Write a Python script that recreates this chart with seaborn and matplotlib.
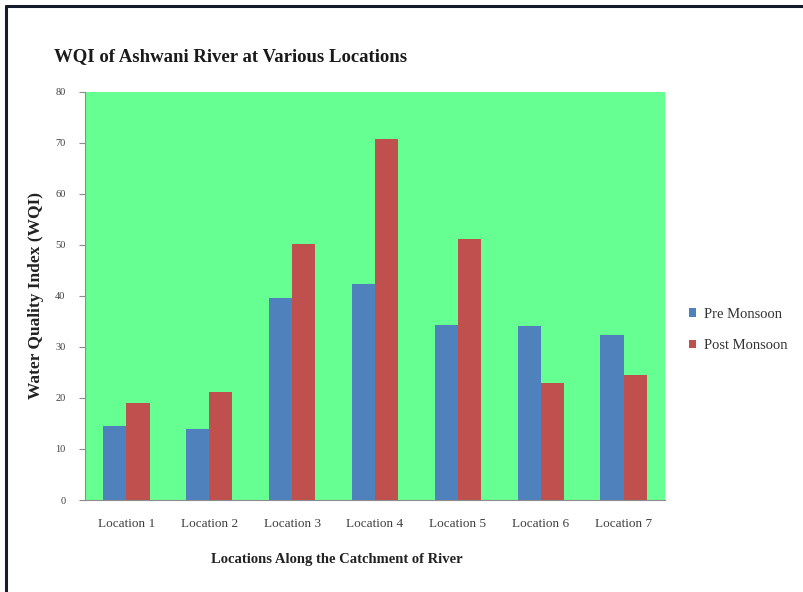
import matplotlib
matplotlib.use("Agg")
import matplotlib.pyplot as plt
from matplotlib.lines import Line2D
from matplotlib.patches import Patch
import seaborn as sns
import pandas as pd
import numpy as np

locations = ["Location 1", "Location 2", "Location 3", "Location 4",
             "Location 5", "Location 6", "Location 7"]
pre_monsoon = [14.5, 14.0, 39.5, 42.3, 34.3, 34.0, 32.3]
post_monsoon = [19.1, 21.2, 50.2, 70.7, 51.1, 23.0, 24.5]
seasons = ["Pre Monsoon", "Post Monsoon"]
y_ticks = [0, 10, 20, 30, 40, 50, 60, 70, 80]

df = pd.DataFrame({
    "Location": locations * 2,
    "WQI": pre_monsoon + post_monsoon,
    "Season": [seasons[0]] * len(locations) + [seasons[1]] * len(locations),
})

sns.set_theme(style="white")
plt.rcParams["font.family"] = ["Liberation Serif", "DejaVu Serif"]

blue = "#4F81BD"
red = "#C0504D"
green = "#66FF91"
axis_grey = "#8C8C8C"

fig = plt.figure(figsize=(8.04, 5.92), dpi=100)
ax = fig.add_axes([85 / 804, 1 - 500 / 592, 580 / 804, (500 - 91.7) / 592])
ax.set_facecolor(green)

sns.barplot(data=df, x="Location", y="WQI", hue="Season", order=locations,
            hue_order=seasons, palette=[blue, red], width=0.56, gap=0,
            saturation=1, linewidth=0, ax=ax, legend=False)

ax.set_ylim(0, 80)
ax.set_xlim(-0.5, len(locations) - 0.5)
ax.set_yticks(y_ticks)
ax.set_yticklabels([str(v) for v in y_ticks], fontsize=7.5, color="#404040")
ax.set_xticks(range(len(locations)))
ax.set_xticklabels(locations, fontsize=9.5, color="#404040")
ax.set_xticks(np.arange(-0.5, len(locations), 1.0), minor=True)
ax.tick_params(axis="x", which="major", length=0, pad=13)
ax.tick_params(axis="x", which="minor", length=4, width=0.8, color=axis_grey,
               direction="out")
ax.tick_params(axis="y", length=4, width=0.8, color=axis_grey,
               direction="out", pad=10, left=True)

for side in ("top", "right"):
    ax.spines[side].set_visible(False)
for side in ("left", "bottom"):
    ax.spines[side].set_color(axis_grey)
    ax.spines[side].set_linewidth(0.8)

ax.set_ylabel("Water Quality Index (WQI)", fontsize=12.5, fontweight="bold",
              color="#222222")
ax.yaxis.set_label_coords(-0.07, 0.5)
ax.set_xlabel("Locations Along the Catchment of River", fontsize=10.5,
              fontweight="bold", color="#222222")
ax.xaxis.set_label_coords(0.435, -0.13)

fig.text(231 / 804, 1 - 57 / 592, "WQI of Ashwani River at Various Locations",
         fontsize=13.5, fontweight="bold", ha="center", va="center",
         color="#1a1a1a")

handles = [Patch(facecolor=blue, edgecolor="none"),
           Patch(facecolor=red, edgecolor="none")]
fig.legend(handles, seasons, loc="center left",
           bbox_to_anchor=(676 / 804, 1 - 330 / 592), frameon=False,
           fontsize=10.5, handlelength=0.5, handleheight=0.5, handletextpad=0.5,
           labelspacing=1.3, labelcolor="#333333")

# frame lines along the left and top edges of the figure
border = "#161b2b"
fig.add_artist(Line2D([6 / 804, 6 / 804], [0, 1 - 6 / 592],
                      transform=fig.transFigure, color=border, linewidth=2.2))
fig.add_artist(Line2D([6 / 804, 1], [1 - 6 / 592, 1 - 6 / 592],
                      transform=fig.transFigure, color=border, linewidth=2.2))

fig.savefig("out.png", dpi=100, facecolor="white")
